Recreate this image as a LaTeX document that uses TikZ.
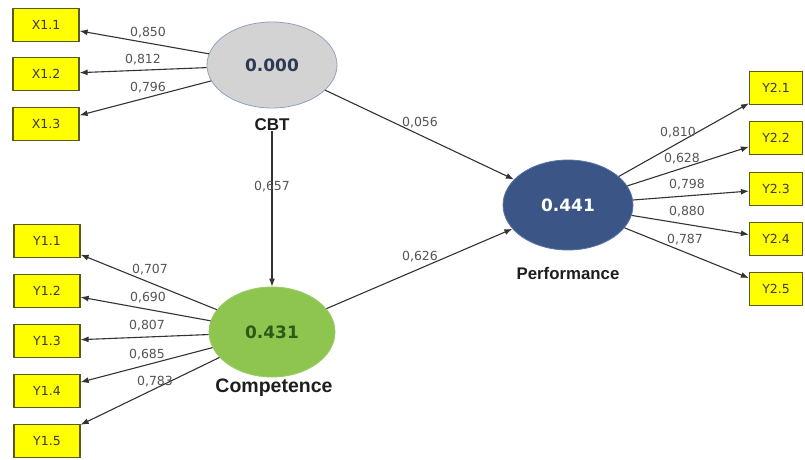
\documentclass[tikz,border=0pt]{standalone}
\usepackage{fontspec}
\setmainfont{DejaVu Sans}
\newfontfamily\labfont{Liberation Sans}
\usetikzlibrary{arrows.meta,shapes.geometric}
\definecolor{boxyellow}{HTML}{FFFF00}
\definecolor{boxborder}{HTML}{5A5A1E}
\definecolor{boxtext}{HTML}{3A3A3A}
\definecolor{loadgray}{HTML}{555555}
\definecolor{linegray}{HTML}{333333}
\definecolor{cbtfill}{HTML}{D3D3D3}
\definecolor{cbtedge}{HTML}{8FA3BF}
\definecolor{cbttext}{HTML}{2E3A55}
\definecolor{compfill}{HTML}{8DC54F}
\definecolor{compedge}{HTML}{9ACB66}
\definecolor{comptext}{HTML}{2D5A1B}
\definecolor{perffill}{HTML}{3C5587}
\definecolor{perfedge}{HTML}{5A75A5}
\definecolor{captext}{HTML}{1E1E1E}
\begin{document}
\begin{tikzpicture}[x=1pt,y=-1pt,
  ind/.style={draw=boxborder, line width=1.2pt, fill=boxyellow, minimum width=66pt, minimum height=33pt, inner sep=0pt, font=\fontsize{12.5}{14}\selectfont, text=boxtext},
  indr/.style={ind, minimum width=53pt},
  lv/.style={ellipse, inner sep=0pt, line width=0.8pt, font=\fontsize{17}{20}\bfseries},
  ld/.style={font=\fontsize{12.5}{14}\selectfont, text=loadgray, inner sep=0pt},
  captxt/.style={text=captext, inner sep=0pt},
  arr/.style={draw=linegray, line width=1.1pt, -{Latex[length=8pt,width=6pt]}},
]
\useasboundingbox (0,0) rectangle (805,459);
\fill[white] (0,0) rectangle (805,459);

% latent variables
\node[lv, fill=cbtfill, draw=cbtedge, minimum width=130pt, minimum height=86pt, text=cbttext] (cbt) at (272,65) {0.000};
\node[lv, fill=compfill, draw=compedge, minimum width=126pt, minimum height=90pt, text=comptext] (comp) at (272,332) {0.431};
\node[lv, fill=perffill, draw=perfedge, minimum width=130pt, minimum height=90pt, text=white] (perf) at (568,205) {0.441};

\node[captxt, font=\labfont\bfseries\fontsize{17}{20}\selectfont] (cbtl) at (272,125) {CBT};
\node[captxt, font=\labfont\bfseries\fontsize{19.5}{22}\selectfont] (compl) at (274,388) {Competence};
\node[captxt, font=\labfont\bfseries\fontsize{16.8}{20}\selectfont] (perfl) at (568,273) {Performance};

% indicators
\node[ind] (x11) at (46,25) {X1.1};
\node[ind] (x12) at (46,74) {X1.2};
\node[ind] (x13) at (46,124) {X1.3};
\node[ind] (y11) at (47,241) {Y1.1};
\node[ind] (y12) at (47,291) {Y1.2};
\node[ind] (y13) at (47,341) {Y1.3};
\node[ind] (y14) at (47,391) {Y1.4};
\node[ind] (y15) at (47,441) {Y1.5};
\node[indr] (y21) at (776,88) {Y2.1};
\node[indr] (y22) at (776,138) {Y2.2};
\node[indr] (y23) at (776,189) {Y2.3};
\node[indr] (y24) at (776,239) {Y2.4};
\node[indr] (y25) at (776,289) {Y2.5};

% loadings
\foreach \t in {x11,x12,x13} \draw[arr] (cbt) -- (\t);
\foreach \t in {y11,y12,y13,y14,y15} \draw[arr] (comp) -- (\t);
\foreach \t in {y21,y22,y23,y24,y25} \draw[arr] (perf) -- (\t);

% structural paths
\draw[arr] (cbt) -- (perf);
\draw[arr] (comp) -- (perf);
\draw[arr] (cbtl.south) -- (comp.north);

% loading labels
\node[ld] (l1) at (148,33) {0,850};
\node[ld] (l2) at (143,60) {0,812};
\node[ld] (l3) at (148,88) {0,796};
\node[ld] (l4) at (150,270) {0,707};
\node[ld] (l5) at (148,298) {0,690};
\node[ld] (l6) at (147,326) {0,807};
\node[ld] (l7) at (147,355) {0,685};
\node[ld] (l8) at (155,382) {0,783};
\node[ld] (l9) at (678,133) {0,810};
\node[ld] (l10) at (682,159) {0,628};
\node[ld] (l11) at (687,185) {0,798};
\node[ld] (l12) at (687,212) {0,880};
\node[ld] (l13) at (685,240) {0,787};
\node[ld] (p1) at (420,123) {0,056};
\node[ld] (p2) at (272,187) {0,657};
\node[ld] (p3) at (420,257) {0,626};
\end{tikzpicture}
\end{document}
